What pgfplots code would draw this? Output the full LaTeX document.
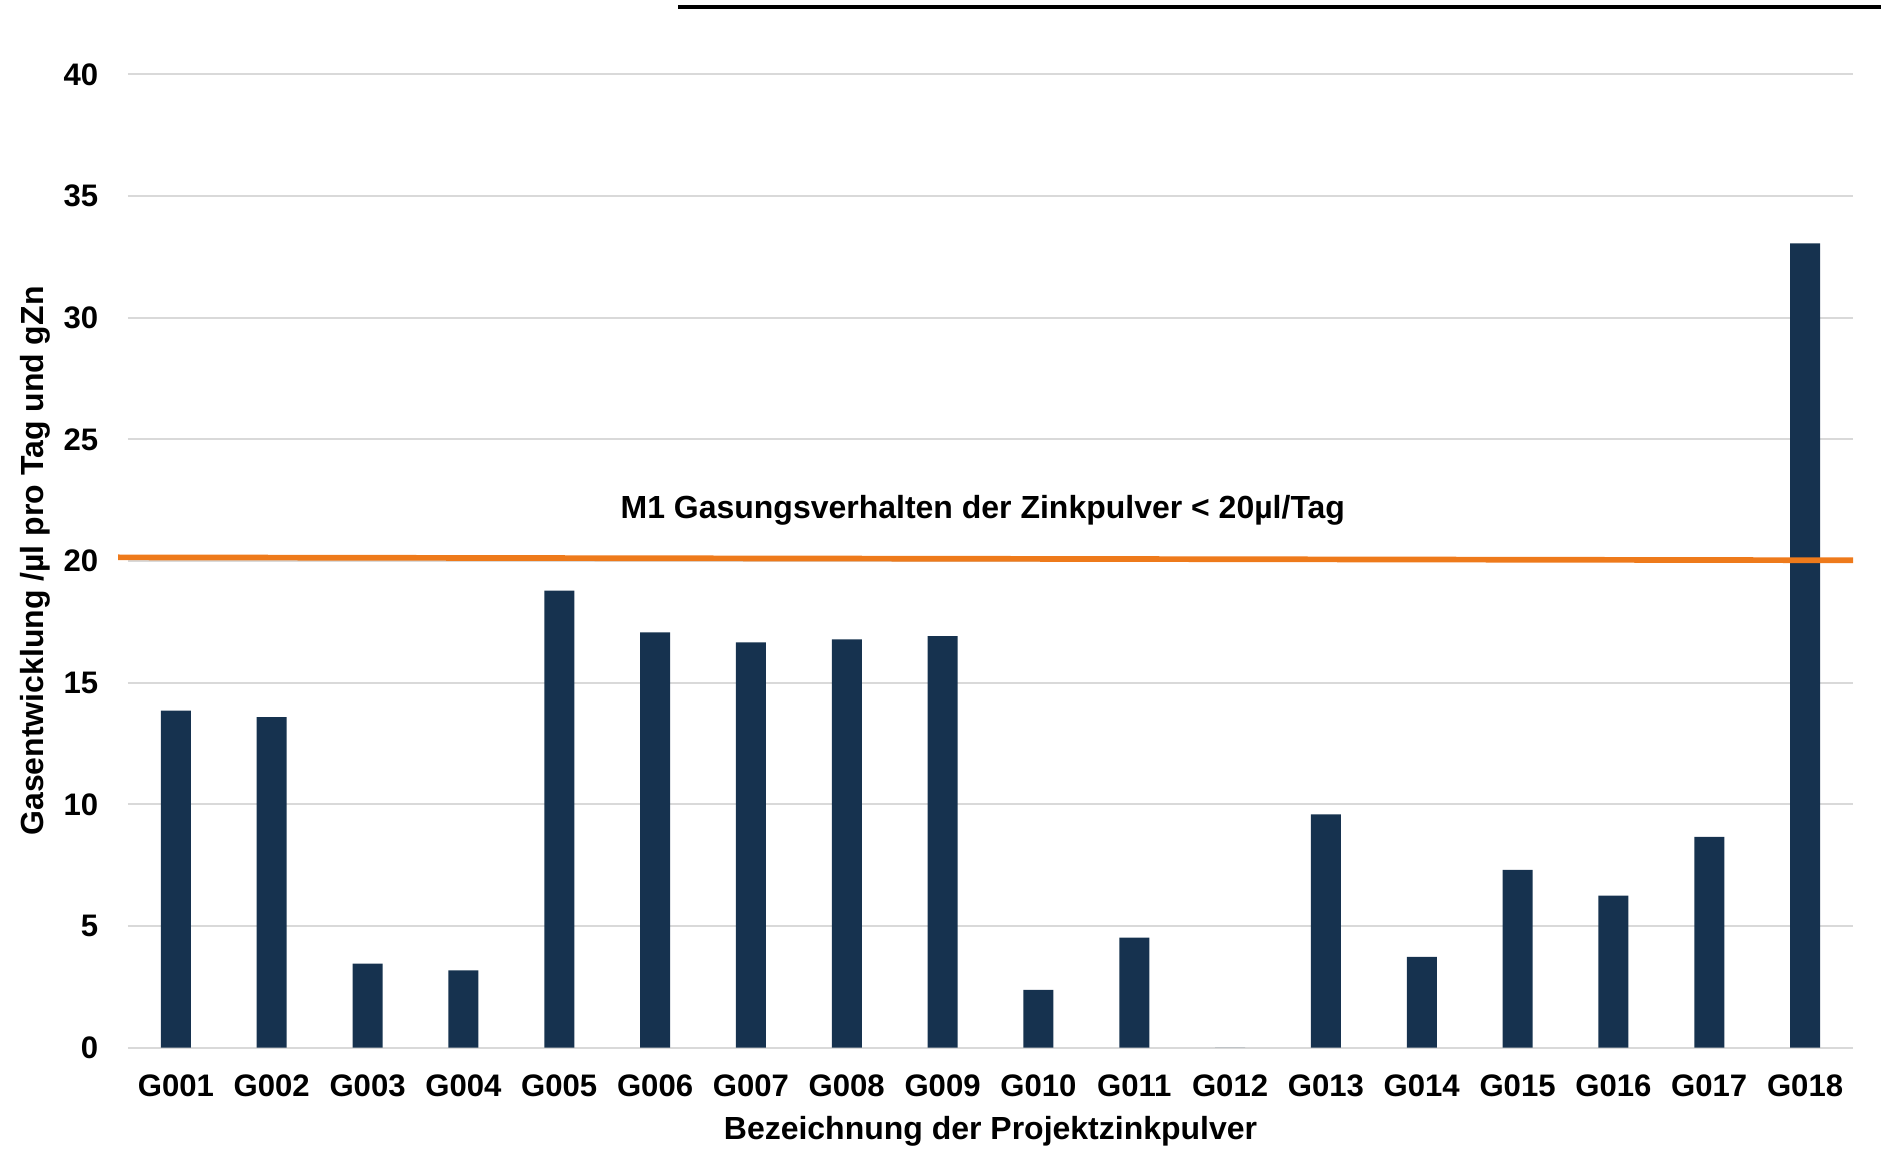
\documentclass[border=0pt]{standalone}
\usepackage{pgfplots}
\pgfplotsset{compat=1.18}
\usepackage{fontspec}
\setmainfont{Liberation Sans}
\definecolor{barblue}{HTML}{16324F}
\definecolor{limorange}{HTML}{EE7A1B}
\definecolor{gridgray}{HTML}{D9D9D9}
\newcommand{\lab}{\fontsize{8.85pt}{10pt}\selectfont\bfseries}
\newcommand{\biglab}{\fontsize{9.1pt}{11pt}\selectfont\bfseries}

\pgfplotstableread{
x y
0 13.85
1 13.58
2 3.45
3 3.18
4 18.78
5 17.07
6 16.66
7 16.78
8 16.91
9 2.38
10 4.52
11 0
12 9.59
13 3.73
14 7.31
15 6.25
16 8.66
17 33.05
}\gasdata

\begin{document}
\begin{tikzpicture}
\useasboundingbox (0,0) rectangle (188.1mm,114.9mm);
\draw[line width=0.4mm, black] (67.8mm,114.2mm) -- (188.1mm,114.2mm);
\begin{axis}[
  at={(12.8mm,10.13mm)}, anchor=south west,
  scale only axis, width=172.5mm, height=97.34mm,
  xmin=-0.5, xmax=17.5, ymin=0, ymax=40,
  ytick={0,5,...,40},
  xtick={0,...,17},
  xticklabels={G001,G002,G003,G004,G005,G006,G007,G008,G009,G010,G011,G012,G013,G014,G015,G016,G017,G018},
  axis line style={draw=none},
  major tick length=0pt,
  ymajorgrids, grid style={gridgray, line width=0.17mm},
  /pgf/number format/assume math mode=true,
  ticklabel style={font=\lab},
  yticklabel style={anchor=east, inner sep=0pt, xshift=-2.9mm},
  xticklabel style={anchor=base, inner sep=0pt, yshift=-4.93mm},
  xlabel={Bezeichnung der Projektzinkpulver},
  xlabel style={font=\biglab, at={(axis description cs:0.5,-0.0945)}, anchor=base, inner sep=0pt},
  ylabel={Gasentwicklung /µl pro Tag und gZn},
  ylabel style={font=\biglab, at={(axis description cs:-0.0491,0.5)}, anchor=base, inner sep=0pt},
  clip=false,
]
\addplot[ybar, bar width=3mm, fill=barblue, draw=none] table[x=x, y=y] {\gasdata};
\addplot[limorange, line width=0.57mm] coordinates {(-0.604,20.15) (17.5,20.03)};
\node[font=\biglab, anchor=base, inner sep=0pt] at (axis cs:8.42,21.75) {M1 Gasungsverhalten der Zinkpulver < 20µl/Tag};
\end{axis}
\end{tikzpicture}
\end{document}
